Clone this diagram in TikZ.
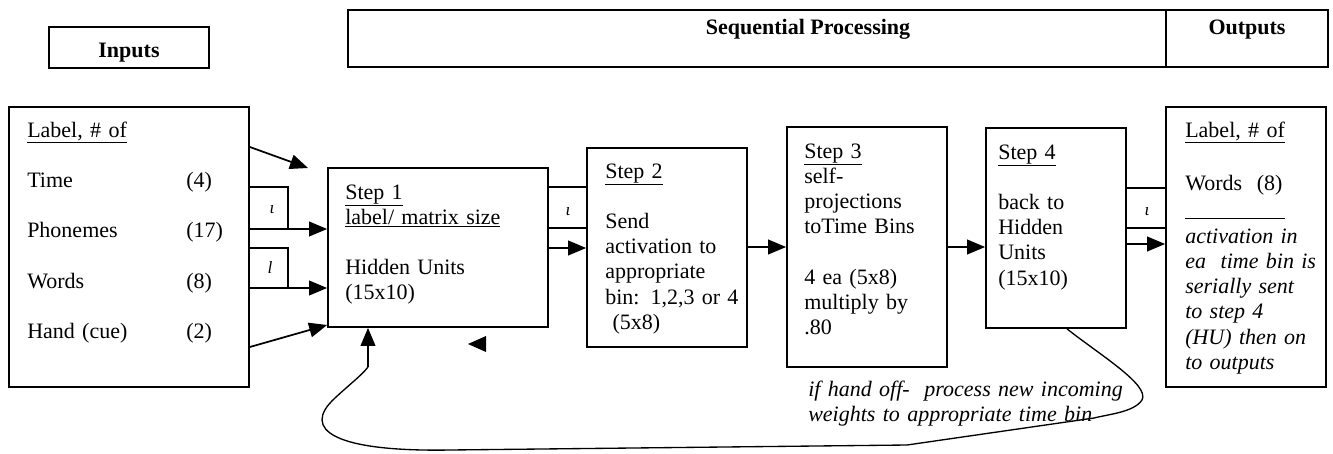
\documentclass[tikz,border=0pt]{standalone}
\usepackage{fontspec}
\setmainfont{Liberation Serif}
\usetikzlibrary{arrows.meta}
\begin{document}
\begin{tikzpicture}[x=0.75pt,y=-0.75pt,
  box/.style={draw, line width=1.3pt, inner sep=0pt, rectangle},
  txt/.style={anchor=base west, inner sep=0pt, align=left, text width=#1, font=\fontsize{16.5pt}{18.9pt}\selectfont},
  hd/.style={anchor=base, inner sep=0pt, font=\fontsize{16.5pt}{18.9pt}\selectfont\bfseries},
  lnk/.style={line width=1.3pt},
  arr/.style={line width=1.3pt, -{Triangle[length=13.5pt,width=11pt]}},
  lbl/.style={inner sep=0pt, font=\fontsize{13pt}{13pt}\selectfont\itshape},
]
\useasboundingbox (0,0) rectangle (1333,453);

% header boxes
\node[box, minimum width=120pt, minimum height=30.75pt] (hin) at (129,47.5) {};
\node[box, minimum width=613.5pt, minimum height=42.75pt] (hseq) at (757,38.5) {};
\node[box, minimum width=121.5pt, minimum height=42.75pt] (hout) at (1247,38.5) {};
\node[hd] (hintxt) at (129,58) {Inputs};
\node[hd] (hseqtxt) at (808,35) {Sequential Processing};
\node[hd] (houttxt) at (1247,35) {Outputs};

% main boxes
\node[box, minimum width=180pt, minimum height=210pt] (inbox) at (129,247) {};
\node[box, minimum width=165pt, minimum height=119.25pt] (s1) at (438,247.5) {};
\node[box, minimum width=120pt, minimum height=149.25pt] (s2) at (667,247.5) {};
\node[box, minimum width=120pt, minimum height=180pt] (s3) at (867,247) {};
\node[box, minimum width=105pt, minimum height=150pt] (s4) at (1056,228) {};
\node[box, minimum width=120pt, minimum height=210pt] (outbox) at (1246,247) {};

% texts
\node[txt=170pt] (tin) at (27,137) {\underline{Label, \# of}\\[\baselineskip]
\makebox[119.25pt][l]{Time}(4)\\[\baselineskip]
\makebox[119.25pt][l]{Phonemes}(17)\\[\baselineskip]
\makebox[119.25pt][l]{Words}(8)\\[\baselineskip]
\makebox[119.25pt][l]{Hand (cue)}(2)};

\node[txt=155pt] (t1) at (345,199) {\underline{Step 1}\\
\underline{label/ matrix size}\\[\baselineskip]
Hidden Units\\
(15x10)};

\node[txt=110pt] (t2) at (605,178) {\underline{Step 2}\\[\baselineskip]
Send\\
activation to\\
appropriate\\
bin: 1,2,3 or 4\\
~(5x8)};

\node[txt=110pt] (t3) at (804,158) {\underline{Step 3}\\
self-\\
projections\\
toTime Bins\\[\baselineskip]
4 ea (5x8)\\
multiply by\\
.80};

\node[txt=95pt] (t4) at (998,159) {\underline{Step 4}\\[\baselineskip]
back to\\
Hidden\\
Units\\
(15x10)};

\node[txt=110pt] (tout) at (1185,137) {\underline{Label, \# of}\\[21pt]
Words~ (8)\\
\rule[-3pt]{75pt}{0.8pt}\\[2pt]
\itshape activation in\\
ea~ time bin is\\
serially sent\\
to step 4\\
(HU) then on\\
to outputs};

\node[txt=260pt] (tnote) at (808,396) {\itshape if hand off-~ process new incoming\\
weights to appropriate time bin};

% connectors inputs -> step 1
\coordinate (a1end) at (308,168);
\draw[arr] (inbox.east |- 0,147) -- (a1end);
\draw[lnk] (inbox.east |- 0,187) -- (288,187) -- (288,229);
\draw[arr] (inbox.east |- 0,229) -- (s1.west |- 0,229);
\node[lbl] (l1) at (272,210) {ι};
\draw[lnk] (inbox.east |- 0,248) -- (288,248) -- (288,288);
\draw[arr] (inbox.east |- 0,288) -- (s1.west |- 0,288);
\node[lbl] (l2) at (270,267) {l};
\draw[arr] (inbox.east |- 0,347) -- (s1.west |- 0,325);

% step 1 -> step 2
\draw[lnk] (s1.east |- 0,187) -- (s2.west |- 0,187);
\draw[lnk] (s1.east |- 0,228) -- (s2.west |- 0,228);
\node[lbl] (l3) at (568,212) {ι};
\draw[arr] (s1.east |- 0,248) -- (s2.west |- 0,248);

% step 2 -> step 3 -> step 4
\draw[arr] (s2.east |- 0,247) -- (s3.west |- 0,247);
\draw[arr] (s3.east |- 0,247) -- (s4.west |- 0,247);

% step 4 -> outputs
\draw[lnk] (s4.east |- 0,188) -- (outbox.west |- 0,188);
\draw[lnk] (s4.east |- 0,228) -- (outbox.west |- 0,228);
\node[lbl] (l4) at (1147,212) {ι};
\draw[arr] (s4.east |- 0,244) -- (outbox.west |- 0,244);

% stray arrowhead
\fill (468,344) -- (486,336) -- (486,352) -- cycle;

% feedback loop
\coordinate (loopend) at (368,367);
\draw[line width=1pt] (s4.south -| 1067,0) .. controls (1100,355) and (1150,385) .. (1142,400)
  .. controls (1134,412) and (1110,414) .. (1094,418) -- (907,445) -- (450,450)
  .. controls (335,452) and (300,430) .. (335,398) .. controls (350,384) and (362,375) .. (loopend);
\draw[arr] (loopend) -- (s1.south -| 368,0);
\end{tikzpicture}
\end{document}
